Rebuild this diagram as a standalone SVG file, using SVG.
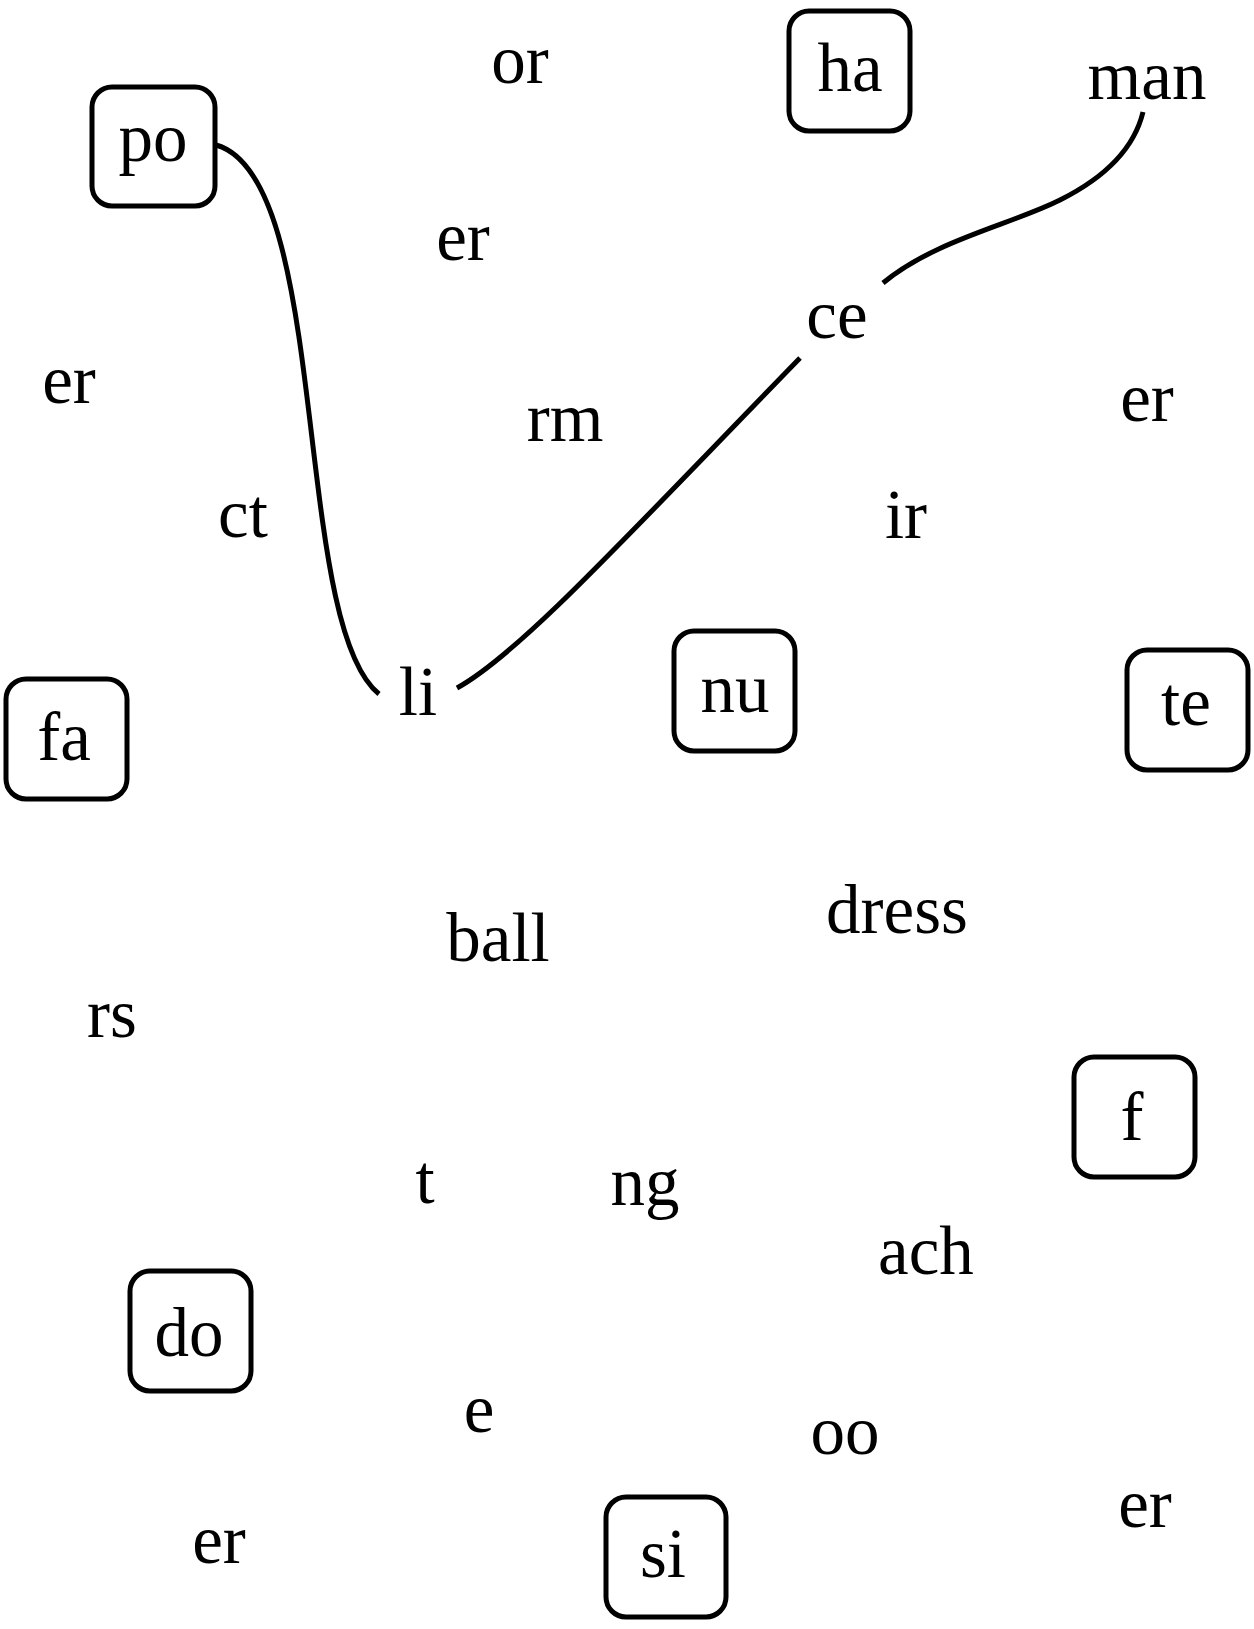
<svg xmlns="http://www.w3.org/2000/svg" width="1254" height="1629" viewBox="0 0 1254 1629">
<style>
text{font-family:"Liberation Serif","Times New Roman",serif;font-size:69px;fill:#000;text-anchor:middle}
.box{fill:#fff;stroke:#000;stroke-width:5}
.edge{fill:none;stroke:#000;stroke-width:5}
</style>
<rect width="1254" height="1629" fill="#fff"/>
<g id="connectors">
<path class="edge" d="M216,145 C332,177 291,623 379,694"/>
<path class="edge" d="M457,688 C519,654 623,540 800,358"/>
<path class="edge" d="M883,283 C935,240 1010,225 1060,200 C1110,175 1135,145 1143,112"/>
</g>
<g id="n-or"><text x="520" y="83">or</text></g>
<g id="n-ha"><rect class="box" x="789" y="11" width="121" height="120" rx="20"/><text x="850" y="91">ha</text></g>
<g id="n-man"><text x="1147" y="99">man</text></g>
<g id="n-po"><rect class="box" x="92" y="87" width="123" height="119" rx="20"/><text x="153" y="161">po</text></g>
<g id="n-er1"><text x="463" y="260">er</text></g>
<g id="n-ce"><text x="837" y="338">ce</text></g>
<g id="n-er2"><text x="69" y="403">er</text></g>
<g id="n-rm"><text x="565" y="441">rm</text></g>
<g id="n-er3"><text x="1147" y="421">er</text></g>
<g id="n-ct"><text x="243" y="537">ct</text></g>
<g id="n-ir"><text x="906" y="538">ir</text></g>
<g id="n-li"><text x="418" y="715">li</text></g>
<g id="n-nu"><rect class="box" x="674" y="631" width="121" height="120" rx="20"/><text x="735" y="712">nu</text></g>
<g id="n-te"><rect class="box" x="1127" y="650" width="121" height="120" rx="20"/><text x="1186" y="725">te</text></g>
<g id="n-fa"><rect class="box" x="6" y="679" width="121" height="120" rx="20"/><text x="64" y="760">fa</text></g>
<g id="n-dress"><text x="897" y="933">dress</text></g>
<g id="n-ball"><text x="498" y="961">ball</text></g>
<g id="n-rs"><text x="112" y="1037">rs</text></g>
<g id="n-f"><rect class="box" x="1074" y="1057" width="121" height="120" rx="20"/><text x="1132" y="1140">f</text></g>
<g id="n-t"><text x="425" y="1203">t</text></g>
<g id="n-ng"><text x="645" y="1205">ng</text></g>
<g id="n-ach"><text x="926" y="1274">ach</text></g>
<g id="n-do"><rect class="box" x="130" y="1271" width="121" height="120" rx="20"/><text x="189" y="1356">do</text></g>
<g id="n-e"><text x="479" y="1432">e</text></g>
<g id="n-oo"><text x="845" y="1454">oo</text></g>
<g id="n-er4"><text x="1145" y="1527">er</text></g>
<g id="n-er5"><text x="219" y="1563">er</text></g>
<g id="n-si"><rect class="box" x="606" y="1497" width="120" height="120" rx="20"/><text x="663" y="1577">si</text></g>
</svg>
